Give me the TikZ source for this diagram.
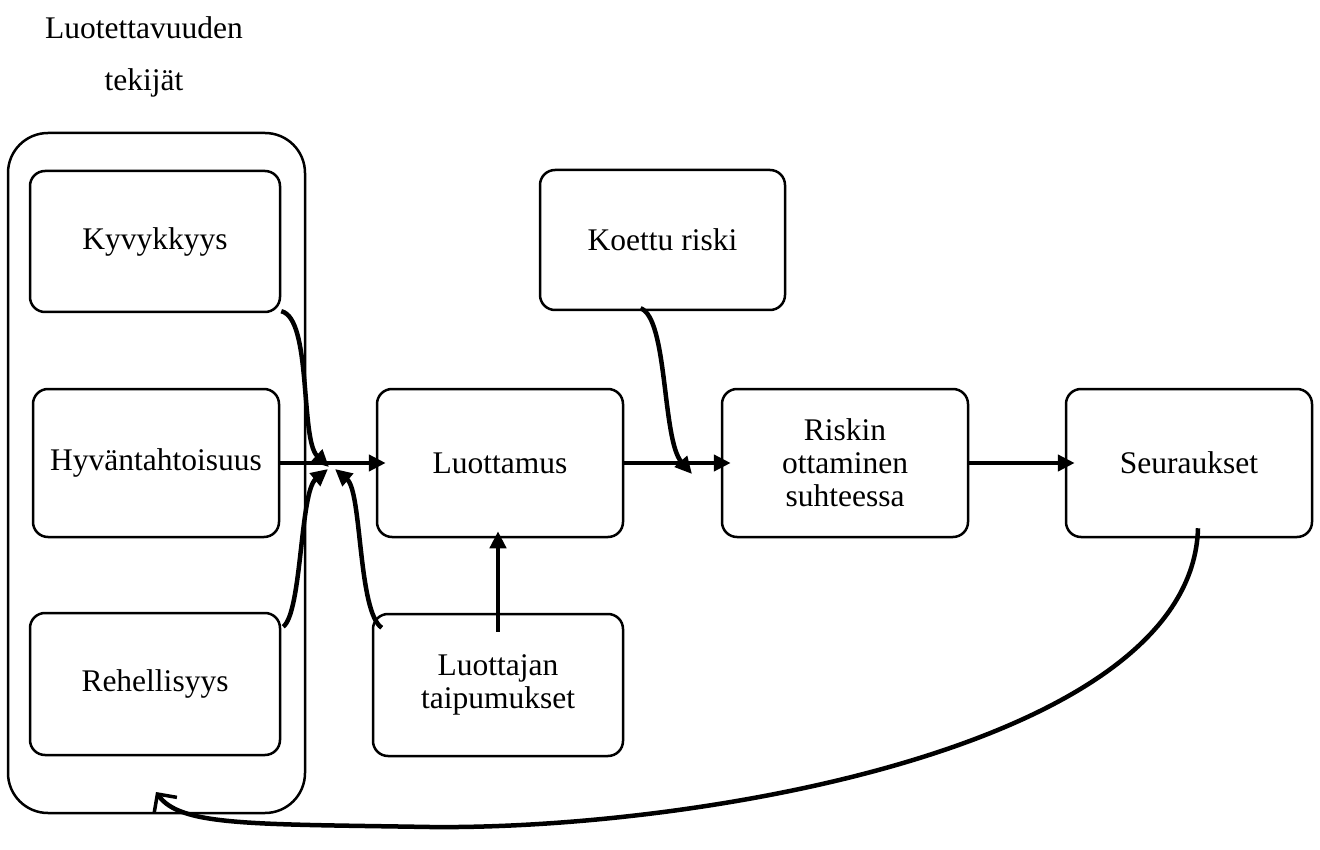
\documentclass[tikz,border=0pt]{standalone}
\usepackage{fontspec}
\setmainfont{Liberation Serif}
\usetikzlibrary{arrows.meta,calc}

\tikzset{
  box/.style={draw, line width=2.5pt, rounded corners=15pt, minimum width=246pt,
    minimum height=148pt, align=center, inner sep=0pt,
    font=\fontsize{31.5}{33}\selectfont},
  link/.style={line width=4.5pt, -{Triangle[length=17pt,width=16pt]}},
}

\begin{document}
\begin{tikzpicture}[x=1pt,y=-1pt]
    \useasboundingbox (0,0) rectangle (1320,850);
    \node[align=center, font=\fontsize{31.5}{52}\selectfont] (title) at (144,57) {Luotettavuuden\\tekijät};
    \node[draw, line width=2.5pt, rounded corners=40pt, minimum width=297pt, minimum height=680pt] (group) at (156.5,473) {};
    \node[box, minimum width=250pt, minimum height=141pt] (kyv) at (155,241.5) {Kyvykkyys};
    \node[box] (hyv) at (156,463) {Hyväntahtoisuus};
    \node[box, minimum width=250pt, minimum height=142pt] (reh) at (155,684) {Rehellisyys};
    \node[box] (luot) at (500,463) {Luottamus};
    \node[box, minimum width=245pt, minimum height=140pt] (koet) at (662.5,240) {Koettu riski};
    \node[box] (risk) at (845,463) {Riskin\\ottaminen\\suhteessa};
    \node[box] (seur) at (1189,463) {Seuraukset};
    \node[box, minimum width=250pt, minimum height=142pt] (taip) at (498,685) {Luottajan\\taipumukset};
    \coordinate (join) at (329,467);
    \coordinate (take) at (692,474);
    % straight links
    \draw[link] (hyv.east) -- ($(luot.west)+(10,0)$);
    \draw[link] (luot.east) -- ($(risk.west)+(10,0)$);
    \draw[link] (risk.east) -- ($(seur.west)+(10,0)$);
    \draw[link] ($(taip.north)+(0,19)$) -- ($(luot.south)+(-2,-7)$);
    % curved links
    \draw[link] ($(kyv.south east)+(0,-2)$) .. controls (312,318) and (300,440) .. (join);
    \draw[link] ($(reh.north east)+(2,15)$) .. controls (302,612) and (300,492) .. ($(join)+(-1,2)$);
    \draw[link] ($(taip.north west)+(10,15)$) .. controls (358,612) and (362,492) .. ($(join)+(6,2)$);
    \draw[link] ($(koet.south)+(-22,-3)$) .. controls (668,318) and (662,440) .. (take);
    \draw[line width=4.5pt, -{Straight Barb[length=14pt,width=28pt,line width=3.5pt]}]
      ($(seur.south)+(9,-10)$) .. controls (1192,745) and (700,830) .. (430,827)
      .. controls (250,824) and (180,826) .. (156,792);
\end{tikzpicture}
\end{document}
